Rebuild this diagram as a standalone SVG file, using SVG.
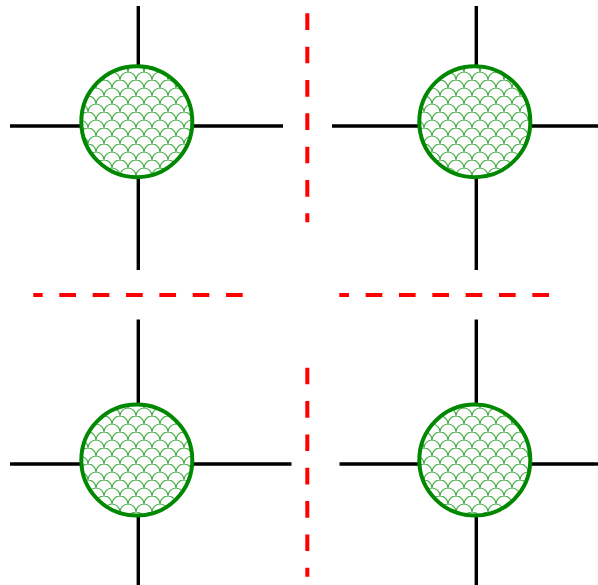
<svg xmlns="http://www.w3.org/2000/svg" width="598" height="585" viewBox="0 0 598 585">
  <style>
    .arm { stroke: #000; stroke-width: 3.4; fill: none; }
    .sep { stroke: #ff0000; stroke-width: 4; fill: none; stroke-dasharray: 16.67 16.67; }
    .node { fill: url(#scales); stroke: #008800; stroke-width: 4; }
  </style>
  <defs>
    <pattern id="scales" patternUnits="userSpaceOnUse" width="16" height="16">
      <rect width="16" height="16" fill="#fff"/>
      <path d="M0,8 A8,8 0 0 1 16,8 M-8,16 A8,8 0 0 1 8,16 M8,16 A8,8 0 0 1 24,16 M-8,0 A8,8 0 0 1 8,0 M8,0 A8,8 0 0 1 24,0" fill="none" stroke="#3faa3f" stroke-width="1.1"/>
    </pattern>
  </defs>
  <rect width="598" height="585" fill="#fff"/>
  <g id="connectors">
    <path class="arm" d="M138.3,6 V270 M10,126 H283"/>
    <path class="arm" d="M476.3,6 V270 M332,126 H598"/>
    <path class="arm" d="M138.3,319.5 V585 M10,464 H291.5"/>
    <path class="arm" d="M476.3,319.5 V585 M339.5,464 H598"/>
  </g>
  <g id="separators">
    <path class="sep" d="M307.3,13.3 V222.3"/>
    <path class="sep" d="M307.3,367.7 V576.7"/>
    <path class="sep" d="M242.7,295 H33.3"/>
    <path class="sep" d="M549,295 H339.3"/>
  </g>
  <g id="node-tl"><circle class="node" cx="136.8" cy="121.7" r="55.5"/></g>
  <g id="node-tr"><circle class="node" cx="474.8" cy="121.7" r="55.5"/></g>
  <g id="node-bl"><circle class="node" cx="136.8" cy="460.1" r="55.5"/></g>
  <g id="node-br"><circle class="node" cx="474.8" cy="460.1" r="55.5"/></g>
</svg>
